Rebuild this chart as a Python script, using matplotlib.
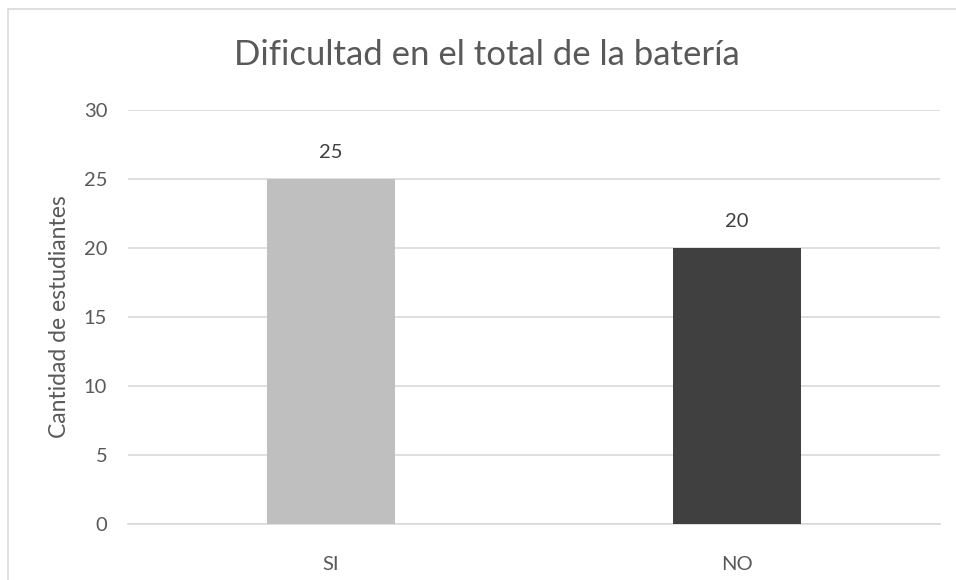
import matplotlib.pyplot as plt
from matplotlib.patches import Rectangle

# datos del gráfico
categorias = ["SI", "NO"]
valores = [25, 20]
colores = ["#BFBFBF", "#404040"]
yticks = [0, 5, 10, 15, 20, 25, 30]

plt.rcParams["font.family"] = ["Lato", "DejaVu Sans"]
texto = "#595959"

fig = plt.figure(figsize=(9.56, 5.8), dpi=100)
ax = fig.add_axes([128 / 956, 56 / 580, 812 / 956, 414 / 580])

# marco del gráfico (se corta por la derecha y abajo)
fig.patches.append(Rectangle((8 / 956, -0.1), 1.2, (580 - 9.5) / 580 + 0.1,
                             transform=fig.transFigure, fill=False,
                             edgecolor="#D9D9D9", linewidth=1.2))

x = range(len(categorias))
bars = ax.bar(x, valores, width=0.315, color=colores, zorder=3)

for b, v in zip(bars, valores):
    ax.annotate(str(v), (b.get_x() + b.get_width() / 2, v),
                xytext=(0, 19), textcoords="offset points",
                ha="center", va="center", fontsize=14.5, color="#404040")

ax.set_xlim(-0.5, 1.5)
ax.set_ylim(0, 30)
ax.set_yticks(yticks)
ax.set_xticks(list(x))
ax.set_xticklabels(categorias)
ax.yaxis.grid(True, color="#D9D9D9", linewidth=1.2, zorder=0)
for s in ["top", "right", "left"]:
    ax.spines[s].set_visible(False)
ax.spines["bottom"].set_color("#D9D9D9")
ax.spines["bottom"].set_linewidth(1.2)
ax.tick_params(axis="both", length=0, colors=texto, labelsize=14.5)
ax.tick_params(axis="y", pad=15)
ax.tick_params(axis="x", pad=23)

ax.set_ylabel("Cantidad de estudiantes", fontsize=16.5, color=texto, labelpad=10)
fig.text(487 / 956, 1 - 55 / 580, "Dificultad en el total de la batería",
         ha="center", va="center", fontsize=25, color=texto)

fig.savefig("out.png", dpi=100)
